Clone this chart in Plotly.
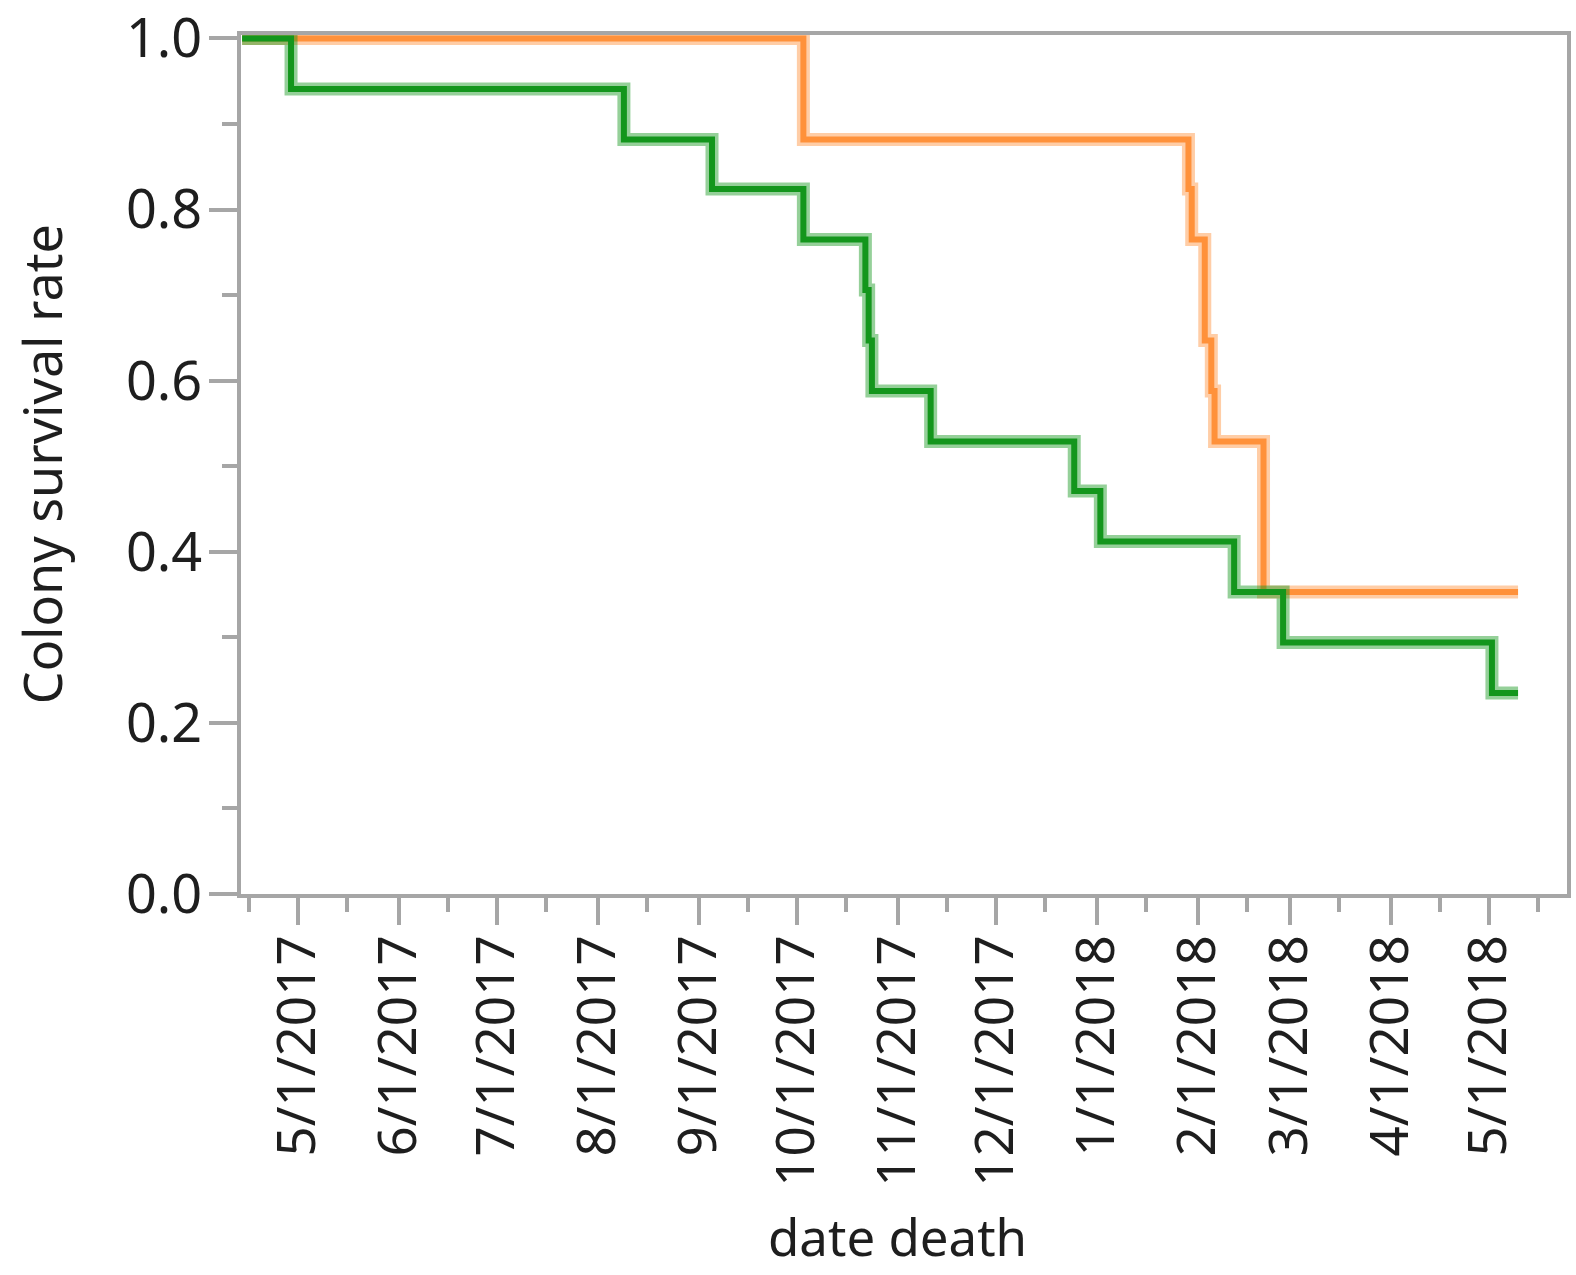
import plotly.graph_objects as go

# Kaplan-Meier style colony survival, two groups (step curves)
green_dates = ["2017-04-14", "2017-04-29", "2017-08-09", "2017-09-05", "2017-10-03",
               "2017-10-22", "2017-10-23", "2017-10-24", "2017-11-11", "2017-12-25",
               "2018-01-02", "2018-02-12", "2018-02-27", "2018-05-02", "2018-05-10"]
green_surv = [1.0, 0.941, 0.882, 0.824, 0.765, 0.706, 0.647, 0.588, 0.529, 0.471,
              0.412, 0.353, 0.294, 0.235, 0.235]

orange_dates = ["2017-04-14", "2017-10-03", "2018-01-29", "2018-01-30", "2018-02-03",
                "2018-02-05", "2018-02-06", "2018-02-21", "2018-05-10"]
orange_surv = [1.0, 0.882, 0.824, 0.765, 0.647, 0.588, 0.529, 0.353, 0.353]

x_tick_dates = ["2017-05-01", "2017-06-01", "2017-07-01", "2017-08-01", "2017-09-01",
                "2017-10-01", "2017-11-01", "2017-12-01", "2018-01-01", "2018-02-01",
                "2018-03-01", "2018-04-01", "2018-05-01"]
x_tick_labels = ["5/1/2017", "6/1/2017", "7/1/2017", "8/1/2017", "9/1/2017",
                 "10/1/2017", "11/1/2017", "12/1/2017", "1/1/2018", "2/1/2018",
                 "3/1/2018", "4/1/2018", "5/1/2018"]

y_tick_vals = [0.0, 0.2, 0.4, 0.6, 0.8, 1.0]
y_tick_labels = ["0.0", "0.2", "0.4", "0.6", "0.8", "1.0"]

GREEN = "#13961c"
GREEN_SOFT = "rgba(19,150,28,0.45)"
ORANGE = "#ff913a"
ORANGE_SOFT = "rgba(255,145,58,0.45)"
AXIS = "#a6a6a6"
FONT = "Noto Sans"
TEXT = "#1e1e1e"

fig = go.Figure()

# soft halo under each curve, then the solid line on top
for dates, surv, soft, solid in [(orange_dates, orange_surv, ORANGE_SOFT, ORANGE),
                                 (green_dates, green_surv, GREEN_SOFT, GREEN)]:
    fig.add_trace(go.Scatter(x=dates, y=surv, mode="lines", line_shape="hv",
                             line=dict(color=soft, width=13), hoverinfo="skip",
                             showlegend=False))
    fig.add_trace(go.Scatter(x=dates, y=surv, mode="lines", line_shape="hv",
                             line=dict(color=solid, width=6), showlegend=False))

fig.update_layout(
    width=1576, height=1275,
    margin=dict(l=241, r=9, t=35, b=381),
    paper_bgcolor="white", plot_bgcolor="white",
    font=dict(family=FONT, color=TEXT, size=52),
    showlegend=False,
)

fig.update_xaxes(
    type="date", automargin=False,
    range=["2017-04-13 16:00", "2018-05-25 00:00"],
    tickmode="array", tickvals=x_tick_dates, ticktext=x_tick_labels,
    tickangle=-90, tickfont=dict(size=53, family=FONT, color=TEXT),
    ticks="outside", ticklen=27, tickwidth=4, tickcolor=AXIS,
    ticklabelstandoff=-11,
    minor=dict(ticks="outside", dtick="M1", tick0="2017-04-16", ticklen=14,
               tickwidth=4, tickcolor=AXIS, showgrid=False),
    showline=True, linecolor=AXIS, linewidth=4, mirror=True,
    showgrid=False, zeroline=False,
)

fig.update_yaxes(
    range=[0, 1.004], automargin=False,
    tickmode="array", tickvals=y_tick_vals, ticktext=y_tick_labels,
    tickfont=dict(size=54, family=FONT, color=TEXT),
    ticks="outside", ticklen=28, tickwidth=4, tickcolor=AXIS,
    ticklabelstandoff=-4, ticklabeloverflow="allow",
    minor=dict(ticks="outside", tickmode="array",
               tickvals=[0.1, 0.3, 0.5, 0.7, 0.9], ticklen=15, tickwidth=4,
               tickcolor=AXIS, showgrid=False),
    showline=True, linecolor=AXIS, linewidth=4, mirror=True,
    showgrid=False, zeroline=False,
)

# axis titles
fig.add_annotation(text="Colony survival rate", xref="paper", yref="paper",
                   x=-0.1503, y=0.5, xanchor="center", yanchor="middle",
                   textangle=-90, showarrow=False,
                   font=dict(size=52, family=FONT, color=TEXT))
fig.add_annotation(text="date death", xref="paper", yref="paper",
                   x=0.495, y=-0.4412, xanchor="center", yanchor="bottom",
                   showarrow=False, font=dict(size=51, family=FONT, color=TEXT))

fig.write_html("out.html")
